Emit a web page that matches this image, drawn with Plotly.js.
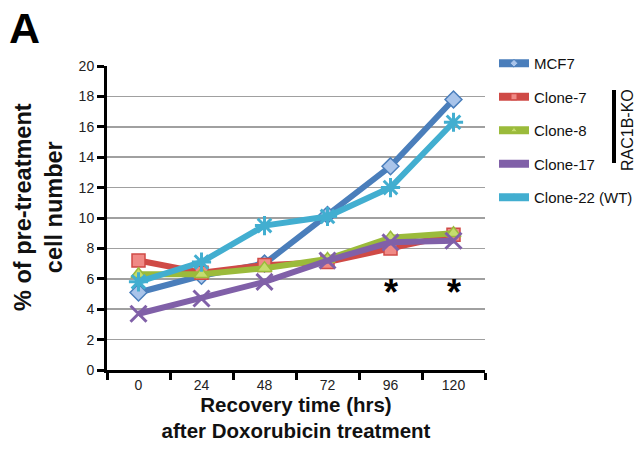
<!DOCTYPE html>
<html><head><meta charset="utf-8">
<script src="https://cdn.plot.ly/plotly-3.0.1.min.js"></script>
<style>body{margin:0;background:#fff}#c{width:639px;height:463px}</style>
</head><body><div id="c"></div>
<script>
const categories = ["0","24","48","72","96","120"];
const seriesNames = ["MCF7","Clone-7","Clone-8","Clone-17","Clone-22 (WT)"];
const mcf7    = [5.1, 6.2, 7.0, 10.2, 13.4, 17.8];
const clone7  = [7.2, 6.4, 6.9, 7.1, 8.0, 8.9];
const clone8  = [6.3, 6.3, 6.7, 7.3, 8.7, 9.0];
const clone17 = [3.7, 4.7, 5.8, 7.2, 8.4, 8.5];
const clone22 = [5.8, 7.1, 9.5, 10.1, 12.0, 16.3];
const yTicks = [0,2,4,6,8,10,12,14,16,18,20];
const sigCats = ["96","120"];
const sigY = 5.1;

const colors = ["#4a7ebb","#cf4a46","#9bbb3b","#8060a8","#42aed0"];
const fills  = ["#a9c4ea","#f08a86","#c5dc6e","#a88cc8","#8fd3ea"];
const symbols = ["diamond","square","triangle-up","x-thin","asterisk"];
const data = [mcf7, clone7, clone8, clone17, clone22];

const traces = data.map((v,i)=>({
  x: categories, y: v, type:"scatter", mode:"lines+markers", name: seriesNames[i],
  showlegend:false,
  line:{color:colors[i], width:6},
  marker:{symbol:symbols[i], size: i===3||i===4 ? 16 : 13, color: fills[i],
          line:{color: colors[i], width: i===3||i===4 ? 3 : 1.5}}
}));
// legend entries (no data points, only drawn in the legend)
const legendTraces = seriesNames.map((n,i)=>({
  x:[null], y:[null], type:"scatter", mode:"lines+markers", name:n, legendgroup:"g"+i,
  line:{color:colors[i], width:8},
  marker:{symbol:symbols[i], size:6, color:fills[i], line:{color:colors[i], width:1}}
}));

const pw = 639-107-154, ph = 463-66-93;
const px = v => (v-107)/pw, py = v => (370-v)/ph;
const layout = {
  width:639, height:463,
  margin:{l:107, r:154, t:66, b:93, autoexpand:false},
  paper_bgcolor:"#fff", plot_bgcolor:"#fff",
  font:{family:"Liberation Sans, Arial, sans-serif", size:14, color:"#222"},
  showlegend:true,
  legend:{x:px(494), xanchor:"left", y:py(47), yanchor:"top", traceorder:"grouped",
          tracegroupgap:11, font:{size:15, color:"#111"}, bgcolor:"rgba(0,0,0,0)", itemwidth:30},
  xaxis:{type:"category", categoryorder:"array", categoryarray:categories, range:[-0.5,5.5], tickson:"boundaries",
         showline:true, linecolor:"#000", linewidth:3, ticks:"outside", ticklen:7, tickwidth:3, tickcolor:"#000",
         showgrid:false, zeroline:false, tickfont:{size:14},
         title:{text:"<b>Recovery time (hrs)<br>after Doxorubicin treatment</b>", font:{size:20.5, color:"#111"}, standoff:6}},
  yaxis:{range:[0,20], tickvals:yTicks, showline:true, linecolor:"#000", linewidth:3,
         ticks:"outside", ticklen:7, tickwidth:3, tickcolor:"#000",
         showgrid:true, gridcolor:"#a0a0a0", gridwidth:1.5, zeroline:false, tickfont:{size:14}},
  annotations:[
    ...sigCats.map(c=>({x:categories.indexOf(c), y:sigY, xref:"x", yref:"y", text:"<b>*</b>", showarrow:false, font:{size:36, color:"#000"}})),
    {x:px(38), y:py(207), xref:"paper", yref:"paper", xanchor:"center", yanchor:"middle", textangle:-90, showarrow:false,
     text:"<b>% of pre-treatment<br>cell number</b>", font:{size:23.5, color:"#111"}},
    {x:px(24), y:py(28), xref:"paper", yref:"paper", text:"<b>A</b>", showarrow:false, font:{size:43, color:"#000"}, xanchor:"center", yanchor:"middle"},
    {x:px(627), y:py(130), xref:"paper", yref:"paper", xanchor:"center", yanchor:"middle", text:"RAC1B-KO", showarrow:false, textangle:-90, font:{size:16, color:"#111"}}
  ],
  shapes:[{type:"line", xref:"paper", yref:"paper", x0:px(614), x1:px(614),
    y0:py(90), y1:py(163), line:{color:"#000", width:4}}]
};

Plotly.newPlot("c", traces.concat(legendTraces), layout, {displayModeBar:false, staticPlot:true});
</script></body></html>
